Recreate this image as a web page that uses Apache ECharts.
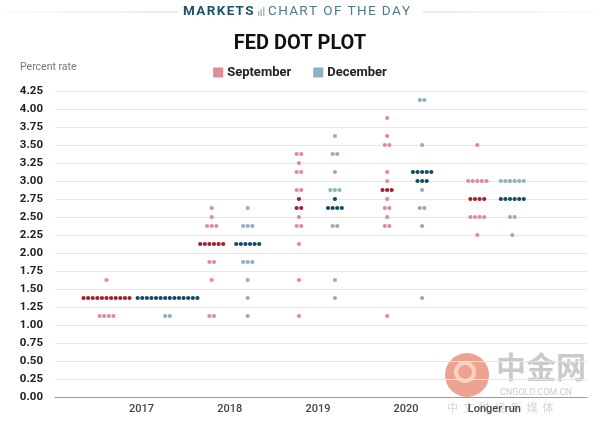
<!DOCTYPE html>
<html>
<head>
<meta charset="utf-8">
<script src="https://cdn.jsdelivr.net/npm/echarts@6/dist/echarts.min.js"></script>
<style>
  html, body { margin: 0; padding: 0; background: #fff; }
  #chart { width: 600px; height: 426px; }
</style>
</head>
<body>
<div id="chart"></div>
<script>
// ---------- DATA ----------
const categories = ['2017', '2018', '2019', '2020', 'Longer run'];
const yTicks = [0, 0.25, 0.5, 0.75, 1, 1.25, 1.5, 1.75, 2, 2.25, 2.5, 2.75, 3, 3.25, 3.5, 3.75, 4, 4.25];

// [category index, rate, number of dots, median row (1) or not (0)]
const septemberDots = [
  [0, 1.625, 1, 0], [0, 1.375, 11, 1], [0, 1.125, 4, 0],
  [1, 2.625, 1, 0], [1, 2.5, 1, 0], [1, 2.375, 3, 0], [1, 2.125, 6, 1], [1, 1.875, 2, 0], [1, 1.625, 1, 0], [1, 1.125, 2, 0],
  [2, 3.375, 2, 0], [2, 3.25, 1, 0], [2, 3.125, 2, 0], [2, 2.875, 2, 0], [2, 2.75, 1, 1], [2, 2.625, 2, 1], [2, 2.5, 1, 0],
  [2, 2.375, 2, 0], [2, 2.125, 1, 0], [2, 1.625, 1, 0], [2, 1.125, 1, 0],
  [3, 3.875, 1, 0], [3, 3.625, 1, 0], [3, 3.5, 2, 0], [3, 3.125, 1, 0], [3, 3.0, 1, 0], [3, 2.875, 3, 1], [3, 2.75, 1, 0],
  [3, 2.625, 2, 0], [3, 2.5, 1, 0], [3, 2.375, 2, 0], [3, 1.125, 1, 0],
  [4, 3.5, 1, 0], [4, 3.0, 5, 0], [4, 2.75, 4, 1], [4, 2.5, 4, 0], [4, 2.25, 1, 0]
];
const decemberDots = [
  [0, 1.375, 14, 1], [0, 1.125, 2, 0],
  [1, 2.625, 1, 0], [1, 2.375, 3, 0], [1, 2.125, 6, 1], [1, 1.875, 3, 0], [1, 1.625, 1, 0], [1, 1.375, 1, 0], [1, 1.125, 1, 0],
  [2, 3.625, 1, 0], [2, 3.375, 2, 0], [2, 3.125, 1, 0], [2, 2.875, 3, 0], [2, 2.75, 1, 1], [2, 2.625, 4, 1], [2, 2.375, 2, 0],
  [2, 1.625, 1, 0], [2, 1.375, 1, 0],
  [3, 4.125, 2, 0], [3, 3.5, 1, 0], [3, 3.125, 5, 1], [3, 3.0, 3, 1], [3, 2.875, 1, 0], [3, 2.625, 2, 0], [3, 2.375, 1, 0], [3, 1.375, 1, 0],
  [4, 3.0, 6, 0], [4, 2.75, 6, 1], [4, 2.5, 2, 0], [4, 2.25, 1, 0]
];

// ---------- LAYOUT / STYLE ----------
const groupOffsetPx = [[-35, 26], [-18, 18], [-19, 17], [-19, 16], [-17, 18]]; // [Sept, Dec] shift from category centre
const dotGap = 4.6;
const dotR = 2.1;
const colors = {
  sepLight: '#dd8d93', sepDark: '#a31f2d',
  decLight: '#8fafc2', decDark: '#124a66'
};

function makeRender(side, light, dark) {
  return function (params, api) {
    const cat = api.value(0), rate = api.value(1), n = api.value(2), med = api.value(3);
    const p = api.coord([cat, rate]);
    const cx = p[0] + groupOffsetPx[cat][side];
    const children = [];
    for (let k = 0; k < n; k++) {
      children.push({
        type: 'circle',
        shape: { cx: cx + (k - (n - 1) / 2) * dotGap, cy: p[1], r: dotR },
        style: { fill: med ? dark : light }
      });
    }
    return { type: 'group', children: children };
  };
}

const chart = echarts.init(document.getElementById('chart'), null, { renderer: 'canvas' });
const FONT = 'Roboto, "Noto Sans", sans-serif';
const HS = '\u200A';
chart.setOption({
  animation: false,
  backgroundColor: '#fff',
  textStyle: { fontFamily: FONT },
  title: {
    text: 'FED DOT PLOT',
    left: 'center',
    top: 29,
    textStyle: { fontFamily: FONT, fontSize: 20, fontWeight: 'bold', color: '#111' }
  },
  legend: {
    top: 61,
    left: 'center',
    itemWidth: 10,
    itemHeight: 10,
    itemGap: 22,
    icon: 'rect',
    data: [
      { name: 'September', itemStyle: { color: colors.sepLight } },
      { name: 'December', itemStyle: { color: colors.decLight } }
    ],
    textStyle: { fontFamily: FONT, fontSize: 13, fontWeight: 'bold', color: '#222', padding: [0, 0, 0, -1] }
  },
  grid: { left: 55, right: 13, top: 91, bottom: 29, containLabel: false },
  xAxis: {
    type: 'value',
    min: -0.981,
    max: 5.051,
    splitLine: { show: false },
    axisTick: { show: false },
    axisLine: { show: true, lineStyle: { color: '#9a9a9a', width: 1 } },
    axisLabel: {
      customValues: [0, 1, 2, 3, 4],
      formatter: function (v) { return categories[Math.round(v)]; },
      margin: 7,
      fontFamily: FONT,
      fontSize: 11,
      fontWeight: 500,
      color: '#444'
    }
  },
  yAxis: {
    type: 'value',
    min: 0,
    max: 4.25,
    interval: 0.25,
    axisLine: { show: false },
    axisTick: { show: false },
    splitLine: { lineStyle: { color: '#e6e6e6', width: 1 } },
    axisLabel: {
      formatter: function (v) { return v.toFixed(2); },
      margin: 12,
      fontFamily: FONT,
      fontSize: 11.5,
      fontWeight: 'bold',
      color: '#222'
    }
  },
  graphic: [
    { type: 'line', shape: { x1: 5, y1: 12, x2: 178, y2: 12 },
      style: { stroke: new echarts.graphic.LinearGradient(0, 0, 1, 0, [{ offset: 0, color: 'rgba(220,220,220,0.2)' }, { offset: 1, color: '#d6d6d6' }]), lineWidth: 1.2 } },
    { type: 'line', shape: { x1: 423, y1: 12, x2: 595, y2: 12 },
      style: { stroke: new echarts.graphic.LinearGradient(0, 0, 1, 0, [{ offset: 0, color: '#d6d6d6' }, { offset: 1, color: 'rgba(220,220,220,0.2)' }]), lineWidth: 1.2 } },
    { type: 'text', left: 183, top: 5,
      style: { text: 'MARKETS'.split('').join(HS), fontFamily: FONT, fontSize: 13.5, fontWeight: 'bold', fill: '#1e5269' } },
    { type: 'rect', shape: { x: 258, y: 11, width: 1.5, height: 5 }, style: { fill: '#a9bcc6' } },
    { type: 'rect', shape: { x: 260.5, y: 9, width: 1.5, height: 7 }, style: { fill: '#a9bcc6' } },
    { type: 'rect', shape: { x: 263, y: 7, width: 1.5, height: 9 }, style: { fill: '#a9bcc6' } },
    { type: 'text', left: 268, top: 5,
      style: { text: 'CHART OF THE DAY'.split('').join(HS), fontFamily: FONT, fontSize: 13.5, fill: '#4f7a90' } },
    { type: 'text', left: 20, top: 62,
      style: { text: 'Percent rate', fontFamily: FONT, fontSize: 10.5, fill: '#777' } },
    // source watermark (faint)
    { type: 'circle', shape: { cx: 467, cy: 375, r: 22 }, style: { fill: 'rgba(226,100,72,0.6)' }, z: -1 },
    { type: 'circle', shape: { cx: 465, cy: 372, r: 9 }, style: { fill: 'none', stroke: 'rgba(250,225,200,0.8)', lineWidth: 4 }, z: -1 },
    { type: 'text', left: 496, top: 352, z: -1,
      style: { text: '中金网', fontFamily: '"Noto Sans CJK SC", sans-serif', fontSize: 30, fontWeight: 'bold', fill: 'rgba(150,150,150,0.5)' } },
    { type: 'text', left: 500, top: 388, z: -1,
      style: { text: 'CNGOLD.COM.CN', fontFamily: FONT, fontSize: 9, fill: 'rgba(160,160,160,0.55)' } },
    { type: 'text', left: 447, top: 402, z: -1,
      style: { text: '中  文  财  经  新  媒  体', fontFamily: '"Noto Sans CJK SC", sans-serif', fontSize: 11, fill: 'rgba(170,170,170,0.5)' } }
  ],
  series: [
    {
      name: 'September', type: 'custom', coordinateSystem: 'cartesian2d',
      itemStyle: { color: colors.sepLight },
      renderItem: makeRender(0, colors.sepLight, colors.sepDark),
      encode: { x: 0, y: 1 },
      data: septemberDots
    },
    {
      name: 'December', type: 'custom', coordinateSystem: 'cartesian2d',
      itemStyle: { color: colors.decLight },
      renderItem: makeRender(1, colors.decLight, colors.decDark),
      encode: { x: 0, y: 1 },
      data: decemberDots
    }
  ]
});
</script>
</body>
</html>
